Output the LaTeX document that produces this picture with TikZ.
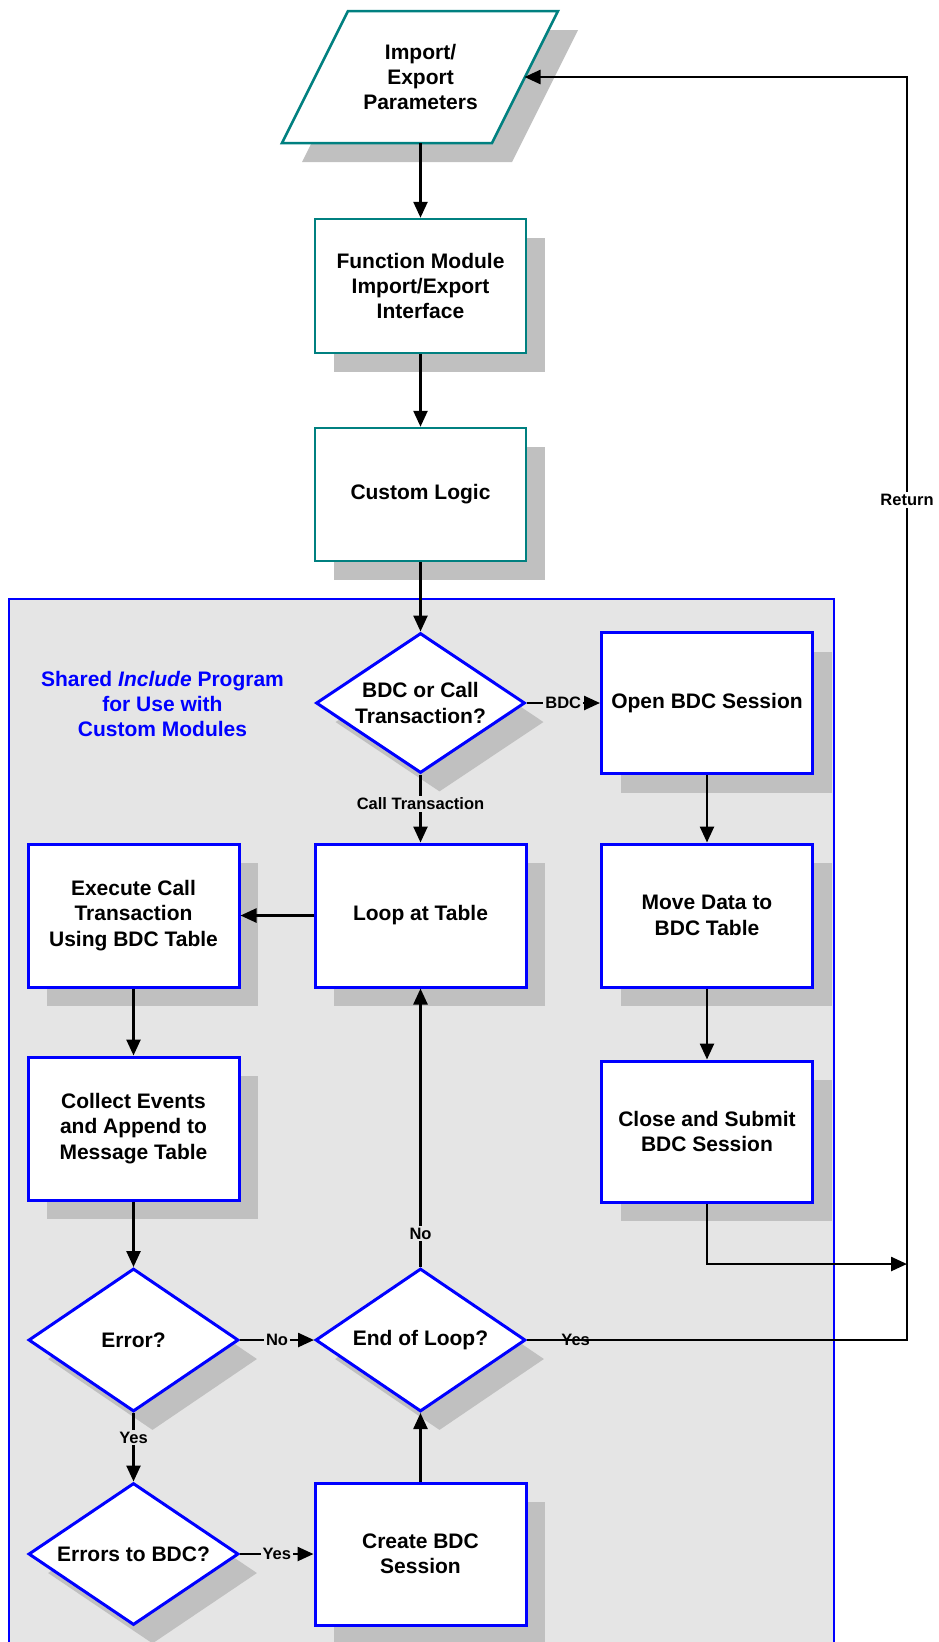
\documentclass[tikz,border=0pt]{standalone}
\usepackage{fontspec}
\setmainfont{Liberation Sans}
\usetikzlibrary{arrows.meta,shapes.geometric,shadows}
\definecolor{tealc}{RGB}{0,128,128}
\definecolor{bblue}{RGB}{0,0,255}
\definecolor{panel}{RGB}{229,229,229}
\definecolor{sgray}{RGB}{192,192,192}
\begin{document}
\begin{tikzpicture}[x=1pt,y=-1pt,
  font=\fontsize{21}{25.3}\selectfont\bfseries,
  shad/.style={drop shadow={shadow xshift=19pt,shadow yshift=-19pt,fill=sgray,opacity=1}},
  tbox/.style={rectangle,draw=tealc,line width=2.5pt,fill=white,minimum width=211pt,minimum height=134pt,align=center,inner sep=0pt,shad},
  bbox/.style={rectangle,draw=bblue,line width=3pt,fill=white,minimum width=211pt,minimum height=142pt,align=center,inner sep=0pt,shad},
  dec/.style={diamond,draw=bblue,line width=3pt,fill=white,minimum width=210pt,minimum height=141pt,aspect=1.5,align=center,inner sep=0pt,shad},
  conn/.style={line width=2.5pt,-{Triangle[length=16pt,width=14pt]}},
  lab/.style={font=\fontsize{16.5}{19}\selectfont\bfseries,fill=panel,inner sep=2pt},
]
\useasboundingbox (0,0) rectangle (938,1642);
\clip (0,0) rectangle (938,1642);
\fill[white] (0,0) rectangle (938,1642);

% container
\draw[bblue,line width=2.5pt,fill=panel] (9,599) rectangle (834,1670);
\node[text=bblue,align=center,font=\fontsize{21}{25}\selectfont\bfseries] (title) at (162.5,704)
  {Shared \textit{Include} Program\\for Use with\\Custom Modules};

% parallelogram
\fill[sgray] (368,30) -- (578,30) -- (512,162) -- (302,162) -- cycle;
\draw[tealc,line width=2.5pt,fill=white] (348,11) -- (558,11) -- (492,143) -- (282,143) -- cycle;
\node[align=center,minimum width=140pt,minimum height=132pt,inner sep=0pt] (param) at (420.5,77)
  {Import/\\Export\\Parameters};
\coordinate (retin) at (524.5,77);

% boxes
\node[tbox] (fm) at (420.5,286) {Function Module\\Import/Export\\Interface};
\node[tbox,minimum height=133pt] (cl) at (420.5,494.5) {Custom Logic};
\node[dec,minimum width=209pt,minimum height=140pt] (d1) at (420.5,703) {BDC or Call\\Transaction?};
\node[bbox,minimum height=141pt] (open) at (707,703) {Open BDC Session};
\node[bbox,minimum height=143pt] (loop) at (420.5,915.5) {Loop at Table};
\node[bbox,minimum height=143pt] (exec) at (133.5,915.5) {Execute Call\\Transaction\\Using BDC Table};
\node[bbox,minimum height=143pt] (move) at (707,915.5) {Move Data to\\BDC Table};
\node[bbox,minimum height=143pt] (coll) at (133.5,1128.5) {Collect Events\\and Append to\\Message Table};
\node[bbox,minimum height=141pt] (close) at (707,1131.5) {Close and Submit\\BDC Session};
\node[dec,minimum height=143pt] (err) at (133.5,1340) {Error?};
\node[dec,minimum height=143pt] (eol) at (420.5,1340) {End of Loop?};
\node[dec,minimum height=142pt] (e2b) at (133.5,1554) {Errors to BDC?};
\node[bbox] (create) at (420.5,1554) {Create BDC\\Session};

\coordinate (jn) at (907,1264);
\coordinate (rc1) at (907,1340);
\coordinate (rc2) at (907,77);

% connectors
\draw[conn] (param.south) -- (fm.north);
\draw[conn] (fm) -- (cl);
\draw[conn] (cl) -- (d1);
\draw[conn] (d1) -- node[lab]{BDC} (open);
\draw[conn] (d1) -- node[lab,pos=0.43]{Call Transaction} (loop);
\draw[conn] (loop) -- (exec);
\draw[conn] (exec) -- (coll);
\draw[conn] (coll) -- (err);
\draw[conn] (err) -- node[lab]{No} (eol);
\draw[conn] (err) -- node[lab,pos=0.36]{Yes} (e2b);
\draw[conn] (e2b) -- node[lab]{Yes} (create);
\draw[conn] (create) -- (eol);
\draw[conn] (eol) -- node[lab,pos=0.12]{No} (loop);
\draw[conn] (open) -- (move);
\draw[conn] (move) -- (close);
\draw[conn] (close.south) |- (jn);
\draw[conn] (eol.east) -- node[lab,fill=none,pos=0.128]{Yes} (rc1)
  -- node[lab,fill=white,pos=0.665]{Return} (rc2) -- (retin);
\end{tikzpicture}
\end{document}
